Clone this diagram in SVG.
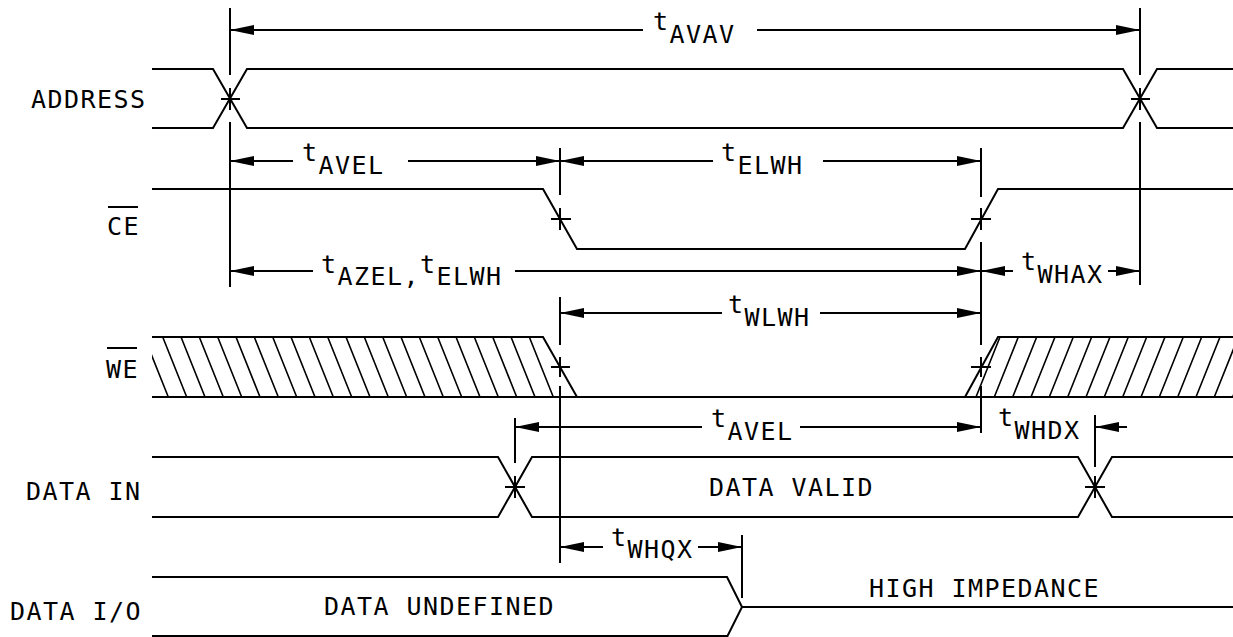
<svg xmlns="http://www.w3.org/2000/svg" width="1233" height="637" viewBox="0 0 1233 637">
<style>
.s{fill:none;stroke:#000;stroke-width:2;stroke-linejoin:miter}
.h{fill:none;stroke:#000;stroke-width:1.6}
.d{fill:none;stroke:#000;stroke-width:2}
.a{marker-end:url(#ah)}
.b{marker-start:url(#ah)}
.ab{marker-start:url(#ah);marker-end:url(#ah)}
text{font-family:"DejaVu Sans Mono","Liberation Mono",monospace;font-size:25px;letter-spacing:1.45px;fill:#000}
</style>
<defs>
<marker id="ah" markerUnits="userSpaceOnUse" markerWidth="24" markerHeight="12" viewBox="0 0 22 10" refX="22" refY="5" orient="auto-start-reverse"><path d="M0,0.5 L22,5 L0,9.5 z" fill="#000"/></marker>
<clipPath id="cl"><polygon points="152,337 543,337 577,397 152,397"/></clipPath>
<clipPath id="cr"><polygon points="965,397 998,337 1233,337 1233,397"/></clipPath>
</defs>

<g id="address">
<text x="31" y="108">ADDRESS</text>
<polyline class="s" points="152,69 213,69 247,128 1123,128 1157,69 1233,69"/>
<polyline class="s" points="152,128 213,128 247,69 1123,69 1157,128 1233,128"/>
</g>

<g id="ce">
<text x="107" y="235">CE</text>
<line class="s" x1="108" y1="207" x2="138" y2="207"/>
<polyline class="s" points="152,189 543,189 577,249 965,249 998,189 1233,189"/>
</g>

<g id="we">
<text x="106" y="378">WE</text>
<line class="s" x1="107" y1="348" x2="137" y2="348"/>
<polyline class="s" points="152,337 543,337 577,397"/>
<line class="s" x1="152" y1="397" x2="1233" y2="397"/>
<polyline class="s" points="965,397 998,337 1233,337"/>
<g clip-path="url(#cl)" class="h">
<path d="M126,337 l24,60 M144.3,337 l24,60 M162.7,337 l24,60 M181,337 l24,60 M199.3,337 l24,60 M217.7,337 l24,60 M236,337 l24,60 M254.3,337 l24,60 M272.7,337 l24,60 M291,337 l24,60 M309.3,337 l24,60 M327.7,337 l24,60 M346,337 l24,60 M364.3,337 l24,60 M382.7,337 l24,60 M401,337 l24,60 M419.3,337 l24,60 M437.7,337 l24,60 M456,337 l24,60 M474.3,337 l24,60 M492.7,337 l24,60 M511,337 l24,60 M529.3,337 l24,60"/>
</g>
<g clip-path="url(#cr)" class="h">
<path d="M1000,337 l-24,60 M1018.3,337 l-24,60 M1036.7,337 l-24,60 M1055,337 l-24,60 M1073.3,337 l-24,60 M1091.7,337 l-24,60 M1110,337 l-24,60 M1128.3,337 l-24,60 M1146.7,337 l-24,60 M1165,337 l-24,60 M1183.3,337 l-24,60 M1201.7,337 l-24,60 M1220,337 l-24,60 M1238.3,337 l-24,60 M1256.7,337 l-24,60"/>
</g>
</g>

<g id="data-in">
<text x="26" y="500">DATA IN</text>
<text x="709" y="496">DATA VALID</text>
<polyline class="s" points="152,457 498,457 532,517 1078,517 1112,457 1233,457"/>
<polyline class="s" points="152,517 498,517 532,457 1078,457 1112,517 1233,517"/>
</g>

<g id="data-io">
<text x="10" y="620">DATA I/O</text>
<text x="324" y="615">DATA UNDEFINED</text>
<text x="869" y="597">HIGH IMPEDANCE</text>
<polyline class="s" points="152,577 727,577 742,607 727,637"/>
<line class="s" x1="152" y1="636" x2="727" y2="636"/>
<line class="s" x1="742" y1="607" x2="1233" y2="607"/>
</g>

<g id="connectors">
<!-- extension lines -->
<path class="d" d="M230,8 V75 M230,122 V287 M1140,8 V75 M1140,122 V285 M560,148 V195 M560,297 V345 M560,386 V563 M981,148 V197 M981,242 V345 M981,386 V433 M515,418 V463 M1095,415 V467 M742,535 V598"/>
<!-- crossing ticks -->
<path class="d" d="M221,99 H240 M230,88 V110 M1131,99 H1150 M1140,88 V110 M551,219 H571 M560,208 V230 M971,219 H991 M981,208 V230 M551,367 H570 M560,357 V377 M971,367 H991 M981,357 V377 M505,487 H525 M515,476 V498 M1085,487 H1105 M1095,476 V498"/>
<!-- dimension arrows -->
<line class="d b" x1="230" y1="30" x2="643" y2="30"/>
<line class="d a" x1="757" y1="30" x2="1140" y2="30"/>
<text x="653" y="30">t<tspan dy="13">AVAV</tspan></text>

<line class="d b" x1="230" y1="161" x2="293" y2="161"/>
<line class="d a" x1="408" y1="161" x2="560" y2="161"/>
<text x="302" y="161">t<tspan dy="13">AVEL</tspan></text>

<line class="d b" x1="560" y1="161" x2="713" y2="161"/>
<line class="d a" x1="823" y1="161" x2="981" y2="161"/>
<text x="721" y="161">t<tspan dy="13">ELWH</tspan></text>

<line class="d b" x1="230" y1="271" x2="313" y2="271"/>
<line class="d a" x1="515" y1="271" x2="981" y2="271"/>
<text x="321" y="273">t<tspan dy="12">AZEL,</tspan><tspan dy="-12">t</tspan><tspan dy="12">ELWH</tspan></text>

<line class="d b" x1="981" y1="271" x2="1013" y2="271"/>
<line class="d a" x1="1108" y1="271" x2="1140" y2="271"/>
<text x="1021" y="270">t<tspan dy="13">WHAX</tspan></text>

<line class="d b" x1="560" y1="313" x2="722" y2="313"/>
<line class="d a" x1="820" y1="313" x2="981" y2="313"/>
<text x="728" y="313">t<tspan dy="13">WLWH</tspan></text>

<line class="d b" x1="515" y1="427" x2="702" y2="427"/>
<line class="d a" x1="800" y1="427" x2="981" y2="427"/>
<text x="711" y="427">t<tspan dy="13">AVEL</tspan></text>

<line class="d a" x1="1127" y1="427" x2="1095" y2="427"/>
<text x="998" y="426">t<tspan dy="13">WHDX</tspan></text>

<line class="d b" x1="560" y1="547" x2="603" y2="547"/>
<line class="d a" x1="698" y1="547" x2="742" y2="547"/>
<text x="611" y="546">t<tspan dy="12">WHQX</tspan></text>
</g>
</svg>
